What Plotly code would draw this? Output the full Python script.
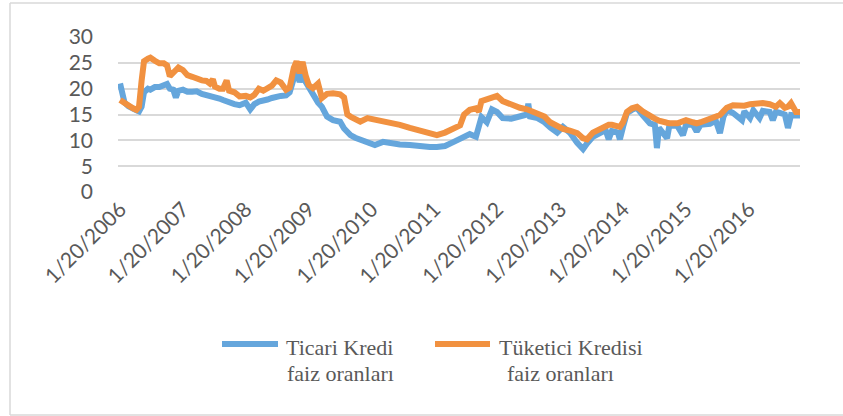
import plotly.graph_objects as go

# --- data ---
dates = [
    "2006-01-20", "2006-02-01", "2006-02-15", "2006-03-10", "2006-04-05", "2006-04-25",
    "2006-05-10", "2006-05-25", "2006-06-08", "2006-07-01", "2006-07-15", "2006-08-10",
    "2006-09-05", "2006-10-01", "2006-10-20", "2006-11-05", "2006-11-25", "2006-12-10",
    "2006-12-25", "2007-01-20", "2007-02-15", "2007-03-15", "2007-04-10", "2007-05-10",
    "2007-06-05", "2007-06-25", "2007-07-13", "2007-07-25", "2007-08-20", "2007-09-10",
    "2007-10-01", "2007-10-15", "2007-11-15", "2007-12-15", "2008-01-20", "2008-02-15",
    "2008-03-10", "2008-04-05", "2008-05-01", "2008-05-25", "2008-06-20", "2008-07-15",
    "2008-08-10", "2008-09-10", "2008-10-01", "2008-10-25", "2008-11-10", "2008-11-28",
    "2008-12-15", "2009-01-02", "2009-01-20", "2009-02-13", "2009-03-15", "2009-04-06",
    "2009-05-06", "2009-06-10", "2009-07-21", "2009-08-13", "2009-09-01", "2009-09-19",
    "2009-10-17", "2009-11-15", "2009-12-27", "2010-02-08", "2010-03-27", "2010-05-17",
    "2010-07-03", "2010-08-30", "2010-10-27", "2010-12-24", "2011-02-03", "2011-03-22",
    "2011-05-06", "2011-06-18", "2011-07-11", "2011-08-13", "2011-09-18", "2011-10-05",
    "2011-10-20", "2011-11-20", "2011-12-20", "2012-01-18", "2012-02-20", "2012-04-10",
    "2012-05-30", "2012-07-10", "2012-07-18", "2012-07-28", "2012-09-10", "2012-10-20",
    "2012-11-22", "2013-01-02", "2013-02-04", "2013-03-16", "2013-04-28", "2013-06-01",
    "2013-06-24", "2013-07-28", "2013-09-07", "2013-10-10", "2013-10-28", "2013-11-15",
    "2013-12-20", "2014-01-01", "2014-01-19", "2014-02-11", "2014-03-12", "2014-04-10",
    "2014-05-13", "2014-06-24", "2014-07-23", "2014-08-04", "2014-08-16", "2014-10-02",
    "2014-10-15", "2014-12-01", "2015-01-02", "2015-01-20", "2015-03-01", "2015-03-23",
    "2015-04-15", "2015-06-08", "2015-07-12", "2015-08-05", "2015-08-25", "2015-09-14",
    "2015-10-20", "2015-12-11", "2015-12-25", "2016-01-27", "2016-02-15", "2016-03-22",
    "2016-04-10", "2016-05-20", "2016-06-07", "2016-06-25", "2016-07-18", "2016-08-16",
    "2016-09-03", "2016-09-21", "2016-10-20", "2016-11-12",
]

ticari = [
    21.0, 19.5, 17.3, 16.6, 16.0, 15.8,
    15.6, 16.5, 19.3, 20.0, 19.8, 20.3,
    20.3, 20.8, 20.9, 20.0, 19.8, 18.3,
    19.6, 19.8, 19.4, 19.4, 19.5, 19.0,
    18.8, 18.6, 18.6, 18.4, 18.1, 17.8,
    17.5, 17.2, 17.0, 16.8, 17.3, 16.0,
    17.0, 17.5, 17.6, 17.9, 18.2, 18.5,
    18.6, 18.7, 19.3, 22.0, 23.3, 21.3,
    22.8, 21.3, 20.3, 18.4, 17.3, 16.5,
    14.6, 13.9, 13.6, 12.3, 11.5, 11.0,
    10.5, 10.1, 9.6, 9.1, 9.7, 9.4,
    9.2, 9.1, 8.8, 8.7, 8.7, 8.9,
    9.6, 10.3, 10.9, 11.2, 10.7, 12.3,
    14.5, 13.5, 16.0, 15.5, 14.3, 14.2,
    14.8, 15.0, 17.1, 14.6, 14.3, 13.5,
    12.5, 11.5, 12.6, 11.5, 9.5, 8.3,
    9.4, 10.7, 11.4, 12.0, 10.2, 11.8,
    11.5, 10.2, 12.6, 15.3, 15.9, 16.3,
    14.9, 13.3, 13.0, 8.5, 12.4, 10.4,
    12.8, 12.8, 11.0, 13.0, 13.0, 11.7,
    13.0, 13.2, 13.8, 11.4, 14.5, 15.9,
    15.3, 13.9, 15.6, 14.3, 15.8, 14.3,
    15.7, 15.5, 13.9, 15.5, 15.3, 15.0,
    12.4, 14.9, 14.8, 14.8,
]

tuketici = [
    17.8, 17.5, 17.2, 16.8, 16.2, 15.9,
    16.5, 21.5, 25.3, 25.8, 26.0, 25.4,
    24.9, 24.9, 24.5, 22.4, 23.2, 23.8,
    24.1, 23.6, 22.6, 22.3, 21.9, 21.6,
    21.5, 21.0, 21.8, 20.4, 20.0, 20.0,
    21.6, 19.6, 19.3, 18.5, 18.6, 18.3,
    18.8, 20.0, 19.6, 20.0, 20.6, 21.6,
    21.2, 19.8, 20.2, 24.0, 25.3, 23.0,
    25.2, 22.5, 20.7, 20.1, 21.0, 18.2,
    19.0, 19.1, 18.9, 18.3, 15.0, 14.6,
    14.0, 13.6, 14.3, 14.0, 13.6, 13.5,
    13.0, 12.4, 11.8, 11.2, 11.0, 11.5,
    12.2, 12.9, 15.0, 15.9, 16.2, 15.6,
    17.6, 18.0, 18.3, 18.6, 17.6, 16.8,
    16.3, 16.0, 15.9, 15.8, 15.4, 14.6,
    13.5, 12.6, 12.2, 11.9, 11.4, 10.4,
    10.2, 11.5, 12.2, 12.9, 13.0, 13.0,
    12.7, 12.6, 13.5, 15.5, 16.2, 16.5,
    15.6, 14.6, 14.2, 14.0, 13.8, 13.4,
    13.3, 13.3, 13.5, 13.9, 13.5, 13.3,
    13.5, 14.3, 14.6, 14.9, 15.6, 16.3,
    16.8, 16.5, 16.7, 17.0, 17.1, 17.2,
    17.2, 17.0, 16.8, 16.5, 17.2, 16.3,
    16.5, 17.2, 15.5, 15.5,
]

tick_dates = ["%d-01-20" % y for y in range(2006, 2017)]
tick_text = ["1/20/%d" % y for y in range(2006, 2017)]
y_ticks = [0, 5, 10, 15, 20, 25, 30]

names = ["Ticari Kredi", "Tüketici Kredisi"]
name_line2 = "faiz oranları"

BLUE = "#65A6DC"
ORANGE = "#F19140"
GRAY = "#595959"
FRAME = "#D9D9D9"

# plot area in pixels: x 118..800, y 37..192
L, R, T, B = 118, 800, 37, 192


def px(x):
    return (x - L) / (R - L)


def py(y):
    return (B - y) / (B - T)


fig = go.Figure()
fig.add_trace(go.Scatter(x=dates, y=ticari, mode="lines", name=names[0],
                         line=dict(color=BLUE, width=6), showlegend=False))
fig.add_trace(go.Scatter(x=dates, y=tuketici, mode="lines", name=names[1],
                         line=dict(color=ORANGE, width=6), showlegend=False))

fig.update_layout(
    width=843, height=416,
    margin=dict(l=L, r=843 - R, t=T, b=416 - B),
    paper_bgcolor="white", plot_bgcolor="white",
    font=dict(family="Lato", color=GRAY),
    xaxis=dict(
        range=["2006-01-08", "2016-11-12"], automargin=False,
        tickmode="array", tickvals=tick_dates, ticktext=tick_text,
        tickangle=-45, tickfont=dict(size=21, color=GRAY),
        showgrid=False, showline=False, zeroline=False,
    ),
    yaxis=dict(
        range=[0, 30], tickmode="array", tickvals=y_ticks, automargin=False,
        tickfont=dict(size=21, color=GRAY),
        showgrid=True, gridcolor="#D9D9D9", gridwidth=1.5,
        zeroline=False, showline=False, ticklabelstandoff=24,
    ),
)

# outer chart frame (left, top, bottom edges; right edge lies outside the view)
for x0, y0, x1, y1 in [(10, 3, 10, 415), (10, 3, 843, 3), (10, 415, 843, 415)]:
    fig.add_shape(type="line", xref="paper", yref="paper",
                  x0=px(x0), x1=px(x1), y0=py(y0), y1=py(y1),
                  line=dict(color=FRAME, width=1.5), layer="below")

# legend drawn by hand (long line samples, two-line labels)
legend_items = [
    (BLUE, 222, 278, 339, 340, names[0]),
    (ORANGE, 435, 490, 571, 560, names[1]),
]
for color, lx0, lx1, c1, c2, label in legend_items:
    fig.add_shape(type="line", xref="paper", yref="paper",
                  x0=px(lx0), x1=px(lx1), y0=py(344), y1=py(344),
                  line=dict(color=color, width=6))
    fig.add_annotation(xref="paper", yref="paper", x=px(c1), y=py(347),
                       text=label, showarrow=False, xanchor="center", yanchor="middle",
                       font=dict(family="Liberation Serif", size=22, color=GRAY))
    fig.add_annotation(xref="paper", yref="paper", x=px(c2), y=py(373),
                       text=name_line2, showarrow=False, xanchor="center", yanchor="middle",
                       font=dict(family="Liberation Serif", size=22, color=GRAY))

fig.write_html("out.html", config={"displayModeBar": False},
               post_script="document.body.style.margin='0';document.body.style.overflow='hidden';")
